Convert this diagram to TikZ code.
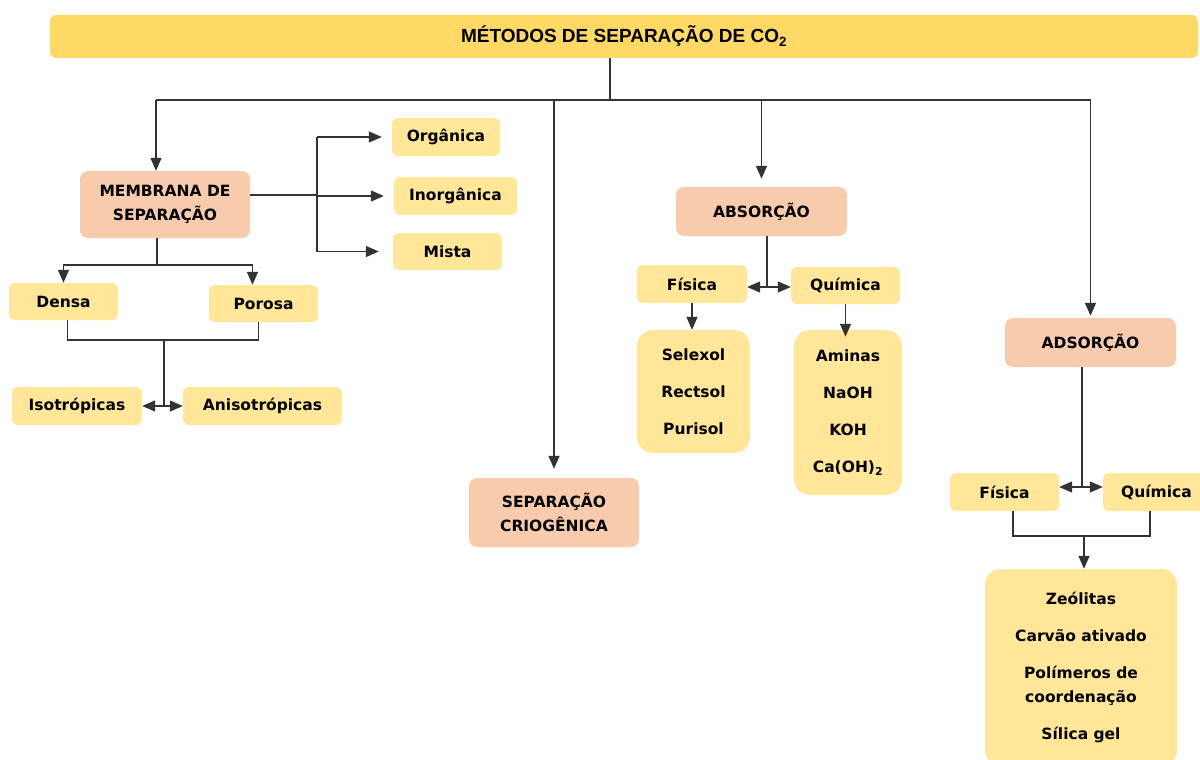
\documentclass[tikz,border=0pt]{standalone}
\usepackage{fontspec}
\setmainfont{DejaVu Sans}
\newfontfamily\titlefont{Liberation Sans}
\usetikzlibrary{arrows.meta}
\definecolor{gold}{HTML}{FFD966}
\definecolor{lightgold}{HTML}{FFE699}
\definecolor{salmon}{HTML}{F8CBAD}
\definecolor{linegray}{HTML}{333333}
\tikzset{
  leaf/.style={fill=lightgold, rounded corners=6pt},
  method/.style={fill=salmon, rounded corners=8pt},
  listbox/.style={fill=lightgold, rounded corners=16pt},
  conn/.style={draw=linegray, line width=1.4pt},
  arr/.style={conn, -{Triangle[length=13pt, width=11pt]}}
}

\begin{document}
\begin{tikzpicture}[x=1pt,y=-1pt]
\tikzstyle{every node}+=[inner sep=0pt, align=center, font=\fontsize{15.5}{24}\selectfont\bfseries]
\useasboundingbox (0,0) rectangle (1200,760);
% title
\node [fill=gold, rounded corners=6pt, minimum width=1148pt, minimum height=43pt,
  font=\titlefont\fontsize{19}{22}\selectfont\bfseries] (title) at (624,36.5) {MÉTODOS DE SEPARAÇÃO DE CO\textsubscript{2}};
% membrana
\node [method, minimum width=170pt, minimum height=67pt] (membrana) at (165,204.5) {MEMBRANA DE\\SEPARAÇÃO};
\node [leaf, minimum width=108pt, minimum height=38pt] (organica) at (446,137) {Orgânica};
\node [leaf, minimum width=123pt, minimum height=38pt] (inorganica) at (455.5,196) {Inorgânica};
\node [leaf, minimum width=109pt, minimum height=37pt] (mista) at (447.5,251.5) {Mista};
\node [leaf, minimum width=109pt, minimum height=37pt] (densa) at (63.5,301.5) {Densa};
\node [leaf, minimum width=109pt, minimum height=37pt] (porosa) at (263.5,303.5) {Porosa};
\node [leaf, minimum width=130pt, minimum height=38pt] (isotropicas) at (77,406) {Isotrópicas};
\node [leaf, minimum width=159pt, minimum height=38pt] (anisotropicas) at (262.5,406) {Anisotrópicas};
% criogenica
\node [method, minimum width=170pt, minimum height=69pt] (criogenica) at (554,512.5) {SEPARAÇÃO\\CRIOGÊNICA};
% absorcao
\node [method, minimum width=171pt, minimum height=49pt] (absorcao) at (761.5,211.5) {ABSORÇÃO};
\node [leaf, minimum width=110pt, minimum height=38pt] (fisAbs) at (692,284) {Física};
\node [leaf, minimum width=109pt, minimum height=37pt] (quiAbs) at (845.5,285.5) {Química};
\node [listbox, minimum width=113pt, minimum height=123pt] (listFis) at (693.5,391.5) {Selexol\\[13pt]Rectsol\\[13pt]Purisol};
\node [listbox, minimum width=108pt, minimum height=165pt] (listQui) at (848,412.5) {Aminas\\[13pt]NaOH\\[13pt]KOH\\[13pt]Ca(OH)\textsubscript{2}};
% adsorcao
\node [method, minimum width=171pt, minimum height=49pt] (adsorcao) at (1090.5,342.5) {ADSORÇÃO};
\node [leaf, minimum width=109pt, minimum height=38pt] (fisAds) at (1004.5,492) {Física};
\node [leaf, minimum width=107pt, minimum height=38pt] (quiAds) at (1156.5,492) {Química};
\node [listbox, minimum width=192pt, minimum height=197pt] (listAds) at (1081,667.5) {Zeólitas\\[13pt]Carvão ativado\\[13pt]Polímeros de\\coordenação\\[13pt]Sílica gel};
% main bus
\coordinate (bus) at (610,100);
\draw [conn] (title.south -| bus) -- (bus);
\draw [conn] ([xshift=-9pt]membrana.north |- bus) -- (adsorcao.north |- bus);
\draw [arr] ([xshift=-9pt]membrana.north |- bus) -- ([xshift=-9pt]membrana.north);
\draw [arr, shorten >=9pt] (criogenica.north |- bus) -- (criogenica.north);
\draw [arr, shorten >=8pt] (absorcao.north |- bus) -- (absorcao.north);
\draw [arr, shorten >=2pt] (adsorcao.north |- bus) -- (adsorcao.north);
% membrana branches
\coordinate (mfork) at (317,195);
\draw [conn] (membrana.east |- mfork) -- (mfork);
\draw [conn] (mfork |- organica) -- (mfork |- mista);
\draw [arr, shorten >=10pt] (mfork |- organica) -- (organica.west);
\draw [arr, shorten >=10pt] (mfork |- inorganica) -- (inorganica.west);
\draw [arr, shorten >=14pt] (mfork |- mista) -- (mista.west);
\coordinate (msplit) at (157,265);
\draw [conn] (membrana.south -| msplit) -- (msplit);
\draw [arr] (msplit) -| (densa.north);
\draw [arr] (msplit) -| ([xshift=-11pt]porosa.north);
\coordinate (mjoin) at (164,340);
\draw [conn] ([xshift=4pt]densa.south) |- (mjoin) -| ([xshift=-5pt]porosa.south);
\draw [conn] (mjoin) -- (mjoin |- isotropicas);
\draw [arr] (mjoin |- isotropicas) -- (isotropicas.east);
\draw [arr] (mjoin |- anisotropicas) -- (anisotropicas.west);
% absorcao branches
\coordinate (absfork) at (767,287);
\draw [conn] (absfork |- absorcao.south) -- (absfork);
\draw [arr] (absfork) -- (absfork -| fisAbs.east);
\draw [arr] (absfork) -- (absfork -| quiAbs.west);
\draw [arr] (fisAbs.south) -- (fisAbs.south |- listFis.north);
\draw [arr] (quiAbs.south) -- ([yshift=-7pt]quiAbs.south |- listQui.north);
% adsorcao branches
\coordinate (adsfork) at (1082,487);
\draw [conn] (adsfork |- adsorcao.south) -- (adsfork);
\draw [arr] (adsfork) -- (adsfork -| fisAds.east);
\draw [arr] (adsfork) -- (adsfork -| quiAds.west);
\coordinate (adsjoin) at (1084,536);
\draw [conn] ([xshift=8.5pt]fisAds.south) |- (adsjoin) -| ([xshift=-6.5pt]quiAds.south);
\draw [arr] (adsjoin) -- (adsjoin |- listAds.north);
\end{tikzpicture}
\end{document}
